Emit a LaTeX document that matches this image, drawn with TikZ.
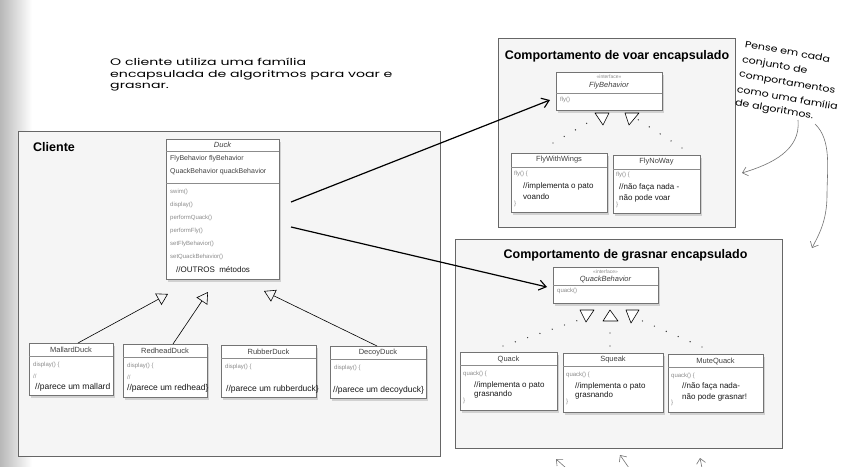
\documentclass[tikz,border=0pt]{standalone}
\usepackage{fontspec}
\usepackage{graphicx}
\setmainfont{Liberation Sans}
\newfontfamily\handfont[FakeStretch=1.2]{Poppins}
\usetikzlibrary{arrows.meta,shadows,calc}
\newcommand\umlbox[6]{%
  \node[cls,minimum width=#4pt,minimum height=#5pt] (#1) at (#2,#3) {};
  \draw[sepl] ($(#1.north west)+(0,#6)$) -- ($(#1.north east)+(0,#6)$);}
\newcommand\wideline[1]{\scalebox{1.24}[1]{#1}}
\begin{document}
\begin{tikzpicture}[x=1pt,y=-1pt,
  grp/.style={draw=black!60,fill=black!4,line width=0.8pt,inner sep=0,outer sep=0,anchor=north west},
  cls/.style={draw=black!55,fill=white,line width=0.5pt,inner sep=0,outer sep=0,anchor=north west,
    drop shadow={opacity=0.3,shadow xshift=2pt,shadow yshift=-2.5pt}},
  sepl/.style={draw=black!45,line width=0.4pt},
  gt/.style={text=black!45,font=\fontsize{6}{7}\selectfont,inner sep=0,anchor=west},
  attxt/.style={text=black!75,font=\fontsize{7}{8}\selectfont,inner sep=0,anchor=west},
  bt/.style={text=black!90,font=\fontsize{8}{9}\selectfont,inner sep=0,anchor=west},
  bts/.style={bt,font=\fontsize{8.5}{9}\selectfont},
  ht/.style={text=black!75,font=\fontsize{7.5}{8}\selectfont,inner sep=0},
  st/.style={text=black!45,font=\fontsize{5}{6}\selectfont,inner sep=0},
  ttl/.style={font=\bfseries\fontsize{12.5}{14}\selectfont,inner sep=0},
  hw/.style={inner sep=0,anchor=west,rotate=-10,font=\handfont\fontsize{9.2}{11}\selectfont},
  assoc/.style={line width=1.2pt,-{Straight Barb[length=7pt,width=10pt,line width=1.1pt]}},
  inh/.style={line width=0.6pt,-{Triangle[open,length=11pt,width=13pt,line width=0.6pt]}},
  real/.style={line width=1.4pt,line cap=round,dash pattern=on 0pt off 13pt,black!80},
  tri/.style={draw=black,line width=0.6pt,fill=white,line join=round},
  handarrow/.style={draw=black!55,line width=0.6pt,-{Straight Barb[length=5pt,width=9pt]}},
]
\path[use as bounding box] (0,0) rectangle (865,466);
\fill[white] (0,0) rectangle (865,466);
\shade[left color=black!28,right color=white] (0,0) rectangle (32,466);

% groups
\node[grp,minimum width=422pt,minimum height=325pt] (cliente) at (18,131) {};
\node[ttl,anchor=west] (clienteL) at (33,147) {Cliente};
\node[grp,minimum width=237pt,minimum height=189pt] (flygrp) at (498,38) {};
\node[ttl] (flyL) at (617,56) {Comportamento de voar encapsulado};
\node[grp,minimum width=327pt,minimum height=209pt] (qgrp) at (455,239) {};
\node[ttl] (qL) at (625.5,255) {Comportamento de grasnar encapsulado};

% Duck
\umlbox{duck}{166}{139}{113}{140}{12}
\draw[sepl] ($(duck.north west)+(0,44)$) -- ($(duck.north east)+(0,44)$);
\node[ht,font=\itshape\fontsize{7.5}{8}\selectfont] (duckH) at ($(duck.north)+(0,6)$) {Duck};
\node[attxt] (dA1) at ($(duck.north west)+(4,20)$) {FlyBehavior flyBehavior};
\node[attxt] (dA2) at ($(duck.north west)+(4,33)$) {QuackBehavior quackBehavior};
\node[gt] (dM1) at ($(duck.north west)+(4,53)$) {swim()};
\node[gt] (dM2) at ($(duck.north west)+(4,66)$) {display()};
\node[gt] (dM3) at ($(duck.north west)+(4,79)$) {performQuack()};
\node[gt] (dM4) at ($(duck.north west)+(4,92)$) {performFly()};
\node[gt] (dM5) at ($(duck.north west)+(4,105)$) {setFlyBehavior()};
\node[gt] (dM6) at ($(duck.north west)+(4,118)$) {setQuackBehavior()};
\node[bt] (dM7) at ($(duck.north west)+(10,131)$) {//OUTROS\ \ métodos};

% subclasses
\umlbox{mallard}{29}{343}{84}{52}{13}
\node[ht] (malH) at ($(mallard.north)+(0,7)$) {MallardDuck};
\node[gt] (mal1) at ($(mallard.north west)+(4,22)$) {display() \{};
\node[gt] (mal2) at ($(mallard.north west)+(4,33)$) {//};
\node[bts] (mal3) at ($(mallard.north west)+(6,44)$) {//parece um mallard};

\umlbox{redhead}{123}{344}{84}{53}{13}
\node[ht] (redH) at ($(redhead.north)+(0,7)$) {RedheadDuck};
\node[gt] (red1) at ($(redhead.north west)+(4,22)$) {display() \{};
\node[gt] (red2) at ($(redhead.north west)+(4,33)$) {//};
\node[bts] (red3) at ($(redhead.north west)+(4,44)$) {//parece um redhead\}};

\umlbox{rubber}{221}{345}{95}{52}{13}
\node[ht] (rubH) at ($(rubber.north)+(0,7)$) {RubberDuck};
\node[gt] (rub1) at ($(rubber.north west)+(4,22)$) {display() \{};
\node[bts] (rub3) at ($(rubber.north west)+(5,44)$) {//parece um rubberduck\}};

\umlbox{decoy}{330}{346}{96}{52}{13}
\node[ht] (decH) at ($(decoy.north)+(0,7)$) {DecoyDuck};
\node[gt] (dec1) at ($(decoy.north west)+(4,22)$) {display() \{};
\node[bts] (dec3) at ($(decoy.north west)+(3,44)$) {//parece um decoyduck\}};

% inheritance
\draw[inh] ($(mallard.north)+(7,0)$) -- ($(duck.south)+(-54.5,15)$);
\draw[inh] ($(redhead.north)+(8,0)$) -- ($(duck.south)+(-14.5,13)$);
\draw[inh] ($(decoy.north)+(-1,0)$) -- ($(duck.south)+(41.5,12)$);

% FlyBehavior
\umlbox{flyb}{556}{72}{106}{38}{21}
\node[st] (fbS) at ($(flyb.north)+(0,5)$) {<<interface>>};
\node[ht,font=\itshape\fontsize{7.5}{8}\selectfont] (fbH) at ($(flyb.north)+(0,14)$) {FlyBehavior};
\node[gt] (fb1) at ($(flyb.north west)+(4,28)$) {fly()};

\umlbox{fww}{511}{153}{96}{59}{14}
\node[ht] (fwwH) at ($(fww.north)+(0,7)$) {FlyWithWings};
\node[gt] (fww1) at ($(fww.north west)+(3,21)$) {fly() \{};
\node[bt] (fww2) at ($(fww.north west)+(12,33)$) {//implementa o pato};
\node[bt] (fww3) at ($(fww.north west)+(12,44)$) {voando};
\node[gt] (fww4) at ($(fww.north west)+(3,51)$) {\}};

\umlbox{fnw}{613}{155}{87}{58}{14}
\node[ht] (fnwH) at ($(fnw.north)+(0,7)$) {FlyNoWay};
\node[gt] (fnw1) at ($(fnw.north west)+(3,20)$) {fly() \{};
\node[bt] (fnw2) at ($(fnw.north west)+(6,32)$) {//não faça nada -};
\node[bt] (fnw3) at ($(fnw.north west)+(6,43)$) {não pode voar};
\node[gt] (fnw4) at ($(fnw.north west)+(3,50)$) {\}};

\draw[tri] (595,113) -- (609,113) -- (603,125) -- cycle;
\draw[tri] (625,113) -- (639,113) -- (629,125) -- cycle;
\coordinate (fr1) at (594,119);
\coordinate (fr2) at (637,119);
\draw[real] ($(fww.north)+(-6,-10)$) -- (fr1);
\draw[real] ($(fnw.north)+(25.5,-7)$) -- (fr2);

% QuackBehavior
\umlbox{quackb}{553}{267}{105}{36}{18}
\node[st] (qbS) at ($(quackb.north)+(0,4.5)$) {<<interface>>};
\node[ht,font=\itshape\fontsize{7.5}{8}\selectfont] (qbH) at ($(quackb.north)+(0,12.5)$) {QuackBehavior};
\node[gt] (qb1) at ($(quackb.north west)+(4,24)$) {quack()};

\umlbox{quack}{460}{352}{97}{58}{13}
\node[ht] (qH) at ($(quack.north)+(0,7)$) {Quack};
\node[gt] (q1) at ($(quack.north west)+(3,22)$) {quack() \{};
\node[bt] (q2) at ($(quack.north west)+(14,33)$) {//implementa o pato};
\node[bt] (q3) at ($(quack.north west)+(14,42)$) {grasnando};
\node[gt] (q4) at ($(quack.north west)+(3,49)$) {\}};

\umlbox{squeak}{563}{353}{100}{59}{13}
\node[ht] (sH) at ($(squeak.north)+(0,7)$) {Squeak};
\node[gt] (s1) at ($(squeak.north west)+(3,22)$) {quack() \{};
\node[bt] (s2) at ($(squeak.north west)+(12,33)$) {//implementa o pato};
\node[bt] (s3) at ($(squeak.north west)+(12,42)$) {grasnando};
\node[gt] (s4) at ($(squeak.north west)+(3,49)$) {\}};

\umlbox{mute}{668}{354}{95}{58}{13}
\node[ht] (mH) at ($(mute.north)+(0,7)$) {MuteQuack};
\node[gt] (m1) at ($(mute.north west)+(3,22)$) {quack() \{};
\node[bt] (m2) at ($(mute.north west)+(14,32)$) {//não faça nada-};
\node[bt] (m3) at ($(mute.north west)+(14,43)$) {não pode grasnar!};
\node[gt] (m4) at ($(mute.north west)+(3,49)$) {\}};

\draw[tri] (580,310) -- (594,310) -- (586,322) -- cycle;
\draw[tri] (603,321) -- (618,321) -- (610,310) -- cycle;
\draw[tri] (626,310) -- (639,310) -- (631,323) -- cycle;
\coordinate (qr1) at (582,319);
\coordinate (qr2) at (610,321);
\coordinate (qr3) at (638,319);
\draw[real] ($(quack.north)+(-5.5,-6)$) -- (qr1);
\draw[real] ($(squeak.north)+(-3,-7)$) -- (qr2);
\draw[real] ($(mute.north)+(-13.5,-7)$) -- (qr3);

% associations
\coordinate (a1) at (291,202);
\coordinate (a2) at (291,227);
\draw[assoc] (a1) -- ($(flyb.west)+(-6,9)$);
\draw[assoc] (a2) -- ($(quackb.west)+(-6,2)$);

% hand-written notes
\node[anchor=north west,align=left,inner sep=0,font=\handfont\fontsize{9.5}{11.5}\selectfont] (note1) at (110,58)
  {\wideline{O cliente utiliza uma família}\\\wideline{encapsulada de algoritmos para voar e}\\\wideline{grasnar.}};
\node[hw] (n2a) at (745,44) {Pense em cada};
\node[hw] (n2b) at (742,60) {conjunto de};
\node[hw] (n2c) at (739,75) {comportamentos};
\node[hw] (n2d) at (737,89) {como uma família};
\node[hw] (n2e) at (735,103) {de algoritmos.};
\coordinate (h1s) at (798,120);
\coordinate (h1e) at (742,173);
\coordinate (h2s) at (815,124);
\coordinate (h2e) at (812,248);
\draw[handarrow] (h1s) .. controls (801,150) and (772,164) .. (h1e);
\draw[handarrow] (h2s) .. controls (832,140) and (827,170) .. (827,195) .. controls (827,222) and (818,236) .. (h2e);
\coordinate (b1s) at (566,468); \coordinate (b1e) at (556,459);
\coordinate (b2s) at (629,468); \coordinate (b2e) at (620,455);
\coordinate (b3s) at (702,468); \coordinate (b3e) at (700,458);
\draw[handarrow] (b1s) -- (b1e);
\draw[handarrow] (b2s) -- (b2e);
\draw[handarrow] (b3s) -- (b3e);
\end{tikzpicture}
\end{document}
